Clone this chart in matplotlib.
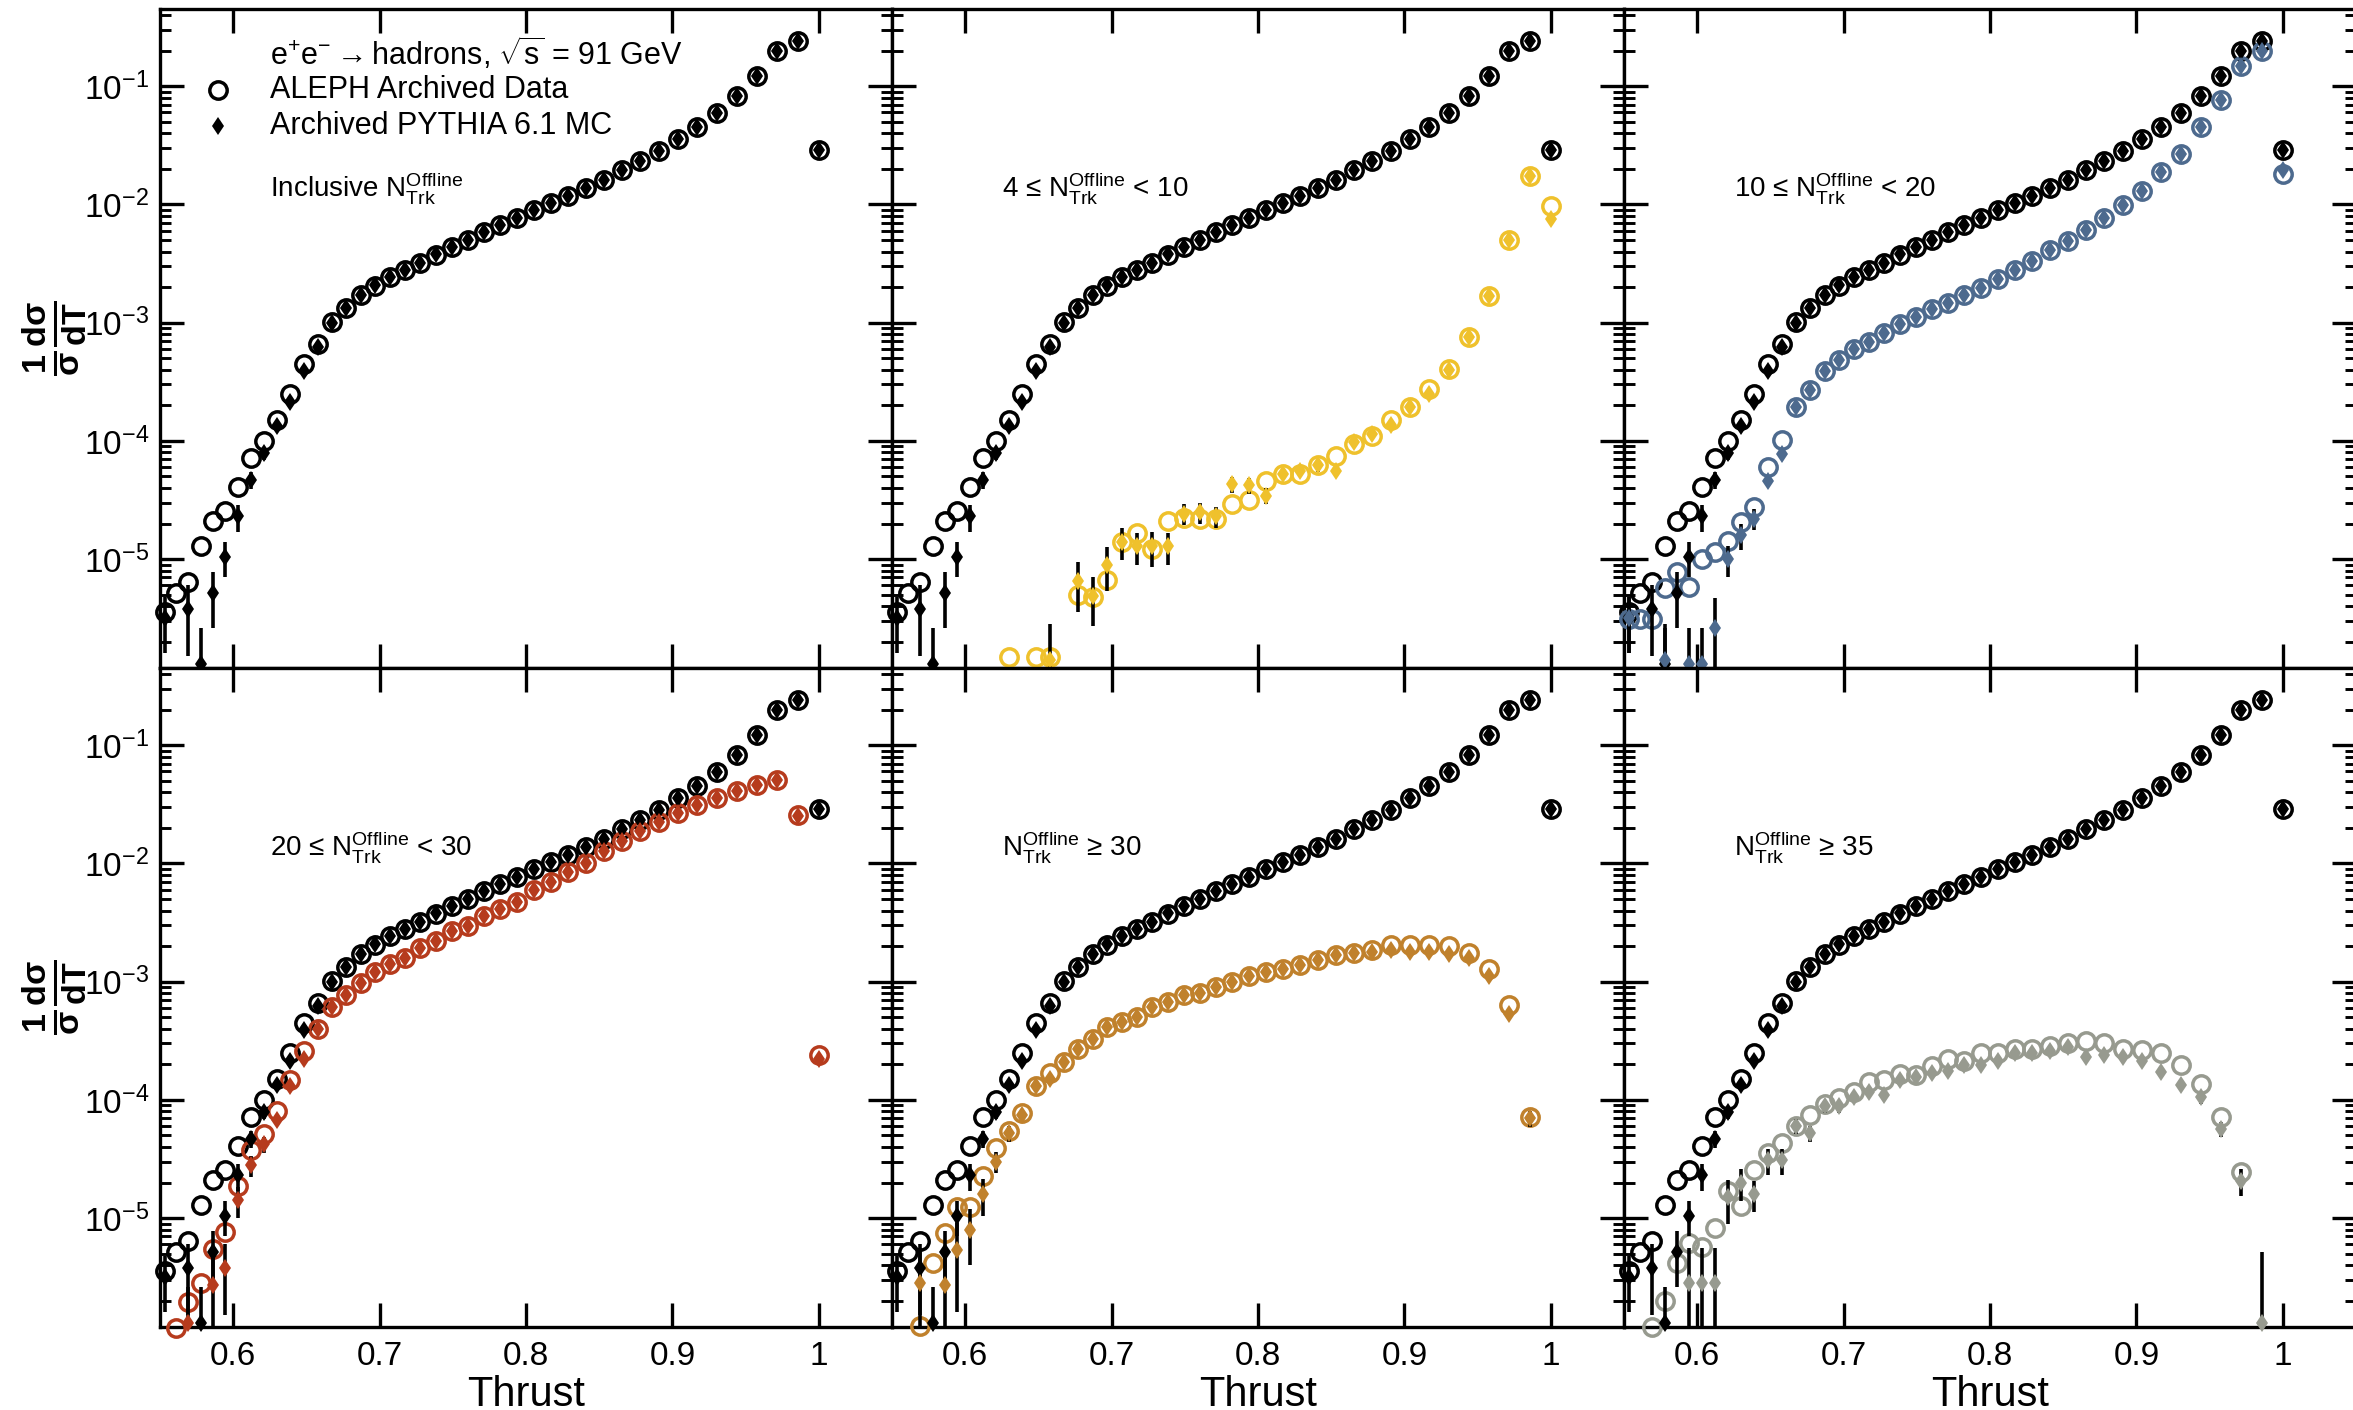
import numpy as np
import matplotlib
matplotlib.use("Agg")
import matplotlib.pyplot as plt
from matplotlib.ticker import FixedLocator, LogLocator, NullFormatter, FuncFormatter

plt.rcParams['font.family'] = ['Liberation Sans', 'DejaVu Sans']
plt.rcParams['mathtext.fontset'] = 'custom'
plt.rcParams['mathtext.rm'] = 'Liberation Sans'
plt.rcParams['mathtext.it'] = 'Liberation Sans:italic'
plt.rcParams['mathtext.bf'] = 'Liberation Sans:bold'

nan = np.nan
# ---------------- data ----------------
thrust = [0.5532, 0.5612, 0.5694, 0.5777, 0.5861, 0.5946, 0.6033, 0.6120, 0.6209, 0.6300,
          0.6391, 0.6484, 0.6579, 0.6674, 0.6771, 0.6870, 0.6970, 0.7071, 0.7174, 0.7278,
          0.7384, 0.7492, 0.7601, 0.7711, 0.7823, 0.7937, 0.8052, 0.8170, 0.8288, 0.8409,
          0.8531, 0.8655, 0.8781, 0.8909, 0.9039, 0.9170, 0.9303, 0.9439, 0.9576, 0.9715,
          0.9857, 1.0000]

incl_data = [3.6e-6, 5.2e-6, 6.4e-6, 1.3e-5, 2.1e-5, 2.55e-5, 4.1e-5, 7.2e-5, 1.0e-4, 1.5e-4,
             2.5e-4, 4.45e-4, 6.6e-4, 1.02e-3, 1.32e-3, 1.72e-3, 2.05e-3, 2.43e-3, 2.8e-3, 3.2e-3,
             3.77e-3, 4.4e-3, 5.0e-3, 5.9e-3, 6.7e-3, 7.7e-3, 8.9e-3, 0.0102, 0.0119, 0.0137,
             0.0160, 0.0196, 0.0232, 0.0284, 0.0355, 0.0452, 0.0592, 0.0834, 0.123, 0.199,
             0.242, 0.0286]
incl_mc = [3.2e-6, nan, 3.8e-6, 1.3e-6, 5.2e-6, 1.05e-5, 2.3e-5, 4.7e-5, 7.9e-5, 1.34e-4,
           2.15e-4, 3.9e-4, 6.2e-4, 1.0e-3, 1.32e-3, 1.72e-3, 2.1e-3, 2.45e-3, 2.8e-3, 3.2e-3,
           3.8e-3, 4.4e-3, 5.0e-3, 5.9e-3, 6.7e-3, 7.7e-3, 8.9e-3, 0.0102, 0.0119, 0.0137,
           0.0160, 0.0196, 0.0232, 0.0284, 0.0355, 0.0452, 0.0592, 0.0834, 0.123, 0.199,
           0.242, 0.0286]
incl_mc_rel = [0.5, 0, 0.6, 1.0, 0.5, 0.33, 0.26, 0.17, 0.12, 0.1,
               0.08, 0.06, 0.05, 0.04, 0.03, 0.03, 0.03, 0.02, 0.02, 0.02,
               0.02, 0.02, 0.02, 0.02, 0.02, 0.02, 0.02, 0.02, 0.02, 0.02,
               0.02, 0.02, 0.02, 0.02, 0.02, 0.02, 0.02, 0.02, 0.02, 0.02,
               0.02, 0.02]

y_data = [nan, nan, nan, nan, nan, nan, nan, nan, nan, 1.5e-6,
          nan, 1.5e-6, 1.5e-6, nan, 5.0e-6, 4.8e-6, 6.6e-6, 1.39e-5, 1.66e-5, 1.21e-5,
          2.1e-5, 2.23e-5, 2.19e-5, 2.19e-5, 2.9e-5, 3.16e-5, 4.6e-5, 5.3e-5, 5.25e-5, 6.2e-5,
          7.4e-5, 9.4e-5, 1.1e-4, 1.49e-4, 1.94e-4, 2.75e-4, 4.07e-4, 7.5e-4, 1.67e-3, 4.98e-3,
          0.0175, 0.00966]
y_mc = [nan, nan, nan, nan, nan, nan, nan, nan, nan, nan,
        nan, nan, 1.4e-6, nan, 6.5e-6, 4.9e-6, 9.0e-6, 1.4e-5, 1.28e-5, 1.28e-5,
        1.28e-5, 2.43e-5, 2.5e-5, 2.3e-5, 4.3e-5, 4.2e-5, 3.45e-5, 5.3e-5, 5.6e-5, 6.2e-5,
        5.6e-5, 9.7e-5, 1.15e-4, 1.37e-4, 1.94e-4, 2.5e-4, 4.0e-4, 7.5e-4, 1.67e-3, 5.0e-3,
        0.0175, 7.6e-3]
y_mc_rel = [0, 0, 0, 0, 0, 0, 0, 0, 0, 0,
            0, 0, 1.0, 0, 0.45, 0.45, 0.4, 0.3, 0.3, 0.33,
            0.3, 0.2, 0.2, 0.2, 0.15, 0.15, 0.15, 0.12, 0.12, 0.12,
            0.12, 0.1, 0.1, 0.1, 0.1, 0.06, 0.05, 0.05, 0.04, 0.04,
            0.04, 0.05]

b_data = [3.1e-6, 3.1e-6, 3.1e-6, 5.7e-6, 7.8e-6, 5.8e-6, 1.0e-5, 1.14e-5, 1.42e-5, 2.05e-5,
          2.78e-5, 6.0e-5, 1.01e-4, 1.94e-4, 2.7e-4, 3.9e-4, 4.85e-4, 6.0e-4, 6.9e-4, 8.2e-4,
          9.75e-4, 1.11e-3, 1.3e-3, 1.47e-3, 1.72e-3, 1.96e-3, 2.33e-3, 2.77e-3, 3.3e-3, 4.1e-3,
          4.9e-3, 6.1e-3, 7.7e-3, 9.8e-3, 0.013, 0.0189, 0.0268, 0.045, 0.076, 0.147,
          0.2, 0.0181]
b_mc = [3.2e-6, nan, nan, 1.4e-6, nan, 1.3e-6, 1.3e-6, 2.6e-6, 1.0e-5, 1.6e-5,
        2.2e-5, 4.6e-5, 7.8e-5, 1.94e-4, 2.7e-4, 3.9e-4, 4.85e-4, 6.0e-4, 6.9e-4, 8.2e-4,
        9.75e-4, 1.11e-3, 1.3e-3, 1.47e-3, 1.72e-3, 1.96e-3, 2.33e-3, 2.77e-3, 3.3e-3, 4.1e-3,
        4.9e-3, 6.1e-3, 7.7e-3, 9.8e-3, 0.013, 0.0189, 0.0268, 0.045, 0.076, 0.147,
        0.2, 0.0195]
b_mc_rel = [0.5, 0, 0, 1.0, 0, 1.0, 1.0, 0.8, 0.3, 0.25,
            0.2, 0.12, 0.1, 0.06, 0.05, 0.04, 0.04, 0.03, 0.03, 0.03,
            0.03, 0.03, 0.03, 0.03, 0.03, 0.03, 0.03, 0.03, 0.03, 0.03,
            0.03, 0.03, 0.03, 0.03, 0.03, 0.03, 0.03, 0.03, 0.03, 0.03,
            0.03, 0.03]

r_data = [nan, 1.18e-6, 1.95e-6, 2.85e-6, 5.5e-6, 7.7e-6, 1.88e-5, 3.8e-5, 5.1e-5, 8.0e-5,
          1.47e-4, 2.6e-4, 3.96e-4, 6.05e-4, 7.7e-4, 9.7e-4, 1.21e-3, 1.42e-3, 1.6e-3, 1.94e-3,
          2.23e-3, 2.7e-3, 2.96e-3, 3.58e-3, 4.13e-3, 4.76e-3, 6.0e-3, 6.95e-3, 8.4e-3, 0.0101,
          0.0128, 0.0155, 0.0187, 0.0226, 0.0265, 0.031, 0.036, 0.041, 0.046, 0.0506,
          0.0255, 2.4e-4]
r_mc = [nan, nan, 1.3e-6, nan, 2.7e-6, 3.8e-6, 1.42e-5, 2.8e-5, 4.2e-5, 6.8e-5,
        1.31e-4, 2.2e-4, 3.96e-4, 6.05e-4, 7.7e-4, 9.7e-4, 1.21e-3, 1.42e-3, 1.6e-3, 1.94e-3,
        2.23e-3, 2.7e-3, 2.96e-3, 3.58e-3, 4.13e-3, 4.76e-3, 6.0e-3, 6.95e-3, 8.4e-3, 0.0101,
        0.0128, 0.0155, 0.0187, 0.0226, 0.0265, 0.031, 0.036, 0.041, 0.046, 0.0506,
        0.025, 2.2e-4]
r_mc_rel = [0, 0, 1.0, 0, 0.8, 0.6, 0.3, 0.2, 0.15, 0.12,
            0.08, 0.06, 0.05, 0.04, 0.03, 0.03, 0.03, 0.03, 0.03, 0.03,
            0.03, 0.03, 0.03, 0.03, 0.03, 0.03, 0.03, 0.03, 0.03, 0.03,
            0.03, 0.03, 0.03, 0.03, 0.03, 0.03, 0.03, 0.03, 0.03, 0.03,
            0.03, 0.05]

o_data = [nan, nan, 1.22e-6, 4.16e-6, 7.5e-6, 1.24e-5, 1.24e-5, 2.27e-5, 3.9e-5, 5.5e-5,
          7.75e-5, 1.31e-4, 1.7e-4, 2.1e-4, 2.7e-4, 3.3e-4, 4.16e-4, 4.57e-4, 5.0e-4, 6.1e-4,
          6.7e-4, 7.7e-4, 8.0e-4, 9.1e-4, 9.9e-4, 1.12e-3, 1.2e-3, 1.29e-3, 1.39e-3, 1.53e-3,
          1.68e-3, 1.74e-3, 1.85e-3, 2.03e-3, 2.03e-3, 2.03e-3, 2.0e-3, 1.75e-3, 1.29e-3, 6.4e-4,
          7.2e-5, nan]
o_mc = [nan, nan, 2.8e-6, nan, 2.7e-6, 5.4e-6, 8.0e-6, 1.6e-5, 3.0e-5, 5.2e-5,
        7.5e-5, 1.3e-4, 1.49e-4, 2.1e-4, 2.7e-4, 3.3e-4, 4.16e-4, 4.57e-4, 5.0e-4, 6.1e-4,
        6.7e-4, 7.7e-4, 8.0e-4, 9.1e-4, 9.9e-4, 1.12e-3, 1.2e-3, 1.29e-3, 1.39e-3, 1.53e-3,
        1.68e-3, 1.74e-3, 1.8e-3, 1.85e-3, 1.8e-3, 1.8e-3, 1.72e-3, 1.58e-3, 1.11e-3, 5.3e-4,
        7.0e-5, nan]
o_mc_rel = [0, 0, 1.0, 0, 1.0, 0.7, 0.5, 0.35, 0.2, 0.15,
            0.1, 0.07, 0.06, 0.05, 0.04, 0.04, 0.04, 0.04, 0.04, 0.04,
            0.04, 0.04, 0.04, 0.04, 0.04, 0.04, 0.04, 0.04, 0.04, 0.04,
            0.04, 0.04, 0.04, 0.04, 0.04, 0.04, 0.04, 0.04, 0.05, 0.06,
            0.15, 0]

g_data = [nan, nan, 1.2e-6, 2.0e-6, 4.16e-6, 6.2e-6, 5.7e-6, 8.3e-6, 1.68e-5, 1.26e-5,
          2.57e-5, 3.57e-5, 4.3e-5, 6.0e-5, 7.5e-5, 9.2e-5, 1.03e-4, 1.16e-4, 1.41e-4, 1.47e-4,
          1.65e-4, 1.62e-4, 1.95e-4, 2.23e-4, 2.15e-4, 2.47e-4, 2.47e-4, 2.7e-4, 2.7e-4, 2.85e-4,
          3.05e-4, 3.16e-4, 3.05e-4, 2.7e-4, 2.65e-4, 2.47e-4, 1.97e-4, 1.35e-4, 7.2e-5, 2.45e-5,
          nan, nan]
g_mc = [nan, nan, nan, nan, nan, 2.8e-6, 2.8e-6, 2.8e-6, 1.5e-5, 2.0e-5,
        1.6e-5, 3.1e-5, 3.1e-5, 6.0e-5, 5.2e-5, 8.8e-5, 8.8e-5, 1.05e-4, 1.16e-4, 1.1e-4,
        1.47e-4, 1.55e-4, 1.69e-4, 1.77e-4, 1.99e-4, 1.99e-4, 2.15e-4, 2.5e-4, 2.47e-4, 2.6e-4,
        2.8e-4, 2.3e-4, 2.4e-4, 2.3e-4, 2.15e-4, 1.73e-4, 1.34e-4, 1.05e-4, 5.7e-5, 2.07e-5,
        1.3e-6, nan]
g_mc_rel = [0, 0, 0, 0, 0, 1.0, 1.0, 1.0, 0.4, 0.3,
            0.3, 0.25, 0.25, 0.15, 0.15, 0.12, 0.12, 0.1, 0.1, 0.1,
            0.08, 0.08, 0.08, 0.08, 0.08, 0.08, 0.08, 0.08, 0.08, 0.08,
            0.08, 0.08, 0.08, 0.08, 0.08, 0.1, 0.1, 0.12, 0.15, 0.25,
            3.0, 0]

panel_labels = [r'Inclusive N$_{\rm Trk}^{\rm Offline}$',
                r'4 ≤ N$_{\rm Trk}^{\rm Offline}$ < 10',
                r'10 ≤ N$_{\rm Trk}^{\rm Offline}$ < 20',
                r'20 ≤ N$_{\rm Trk}^{\rm Offline}$ < 30',
                r'N$_{\rm Trk}^{\rm Offline}$ ≥ 30',
                r'N$_{\rm Trk}^{\rm Offline}$ ≥ 35']
sel_data = [None, y_data, b_data, r_data, o_data, g_data]
sel_mc = [None, y_mc, b_mc, r_mc, o_mc, g_mc]
sel_rel = [None, y_mc_rel, b_mc_rel, r_mc_rel, o_mc_rel, g_mc_rel]
sel_colors = [None, '#EFC12C', '#4D6A8E', '#B63B1D', '#C0812C', '#979A8F']

xticks = [0.6, 0.7, 0.8, 0.9, 1.0]
xticklabels = ['0.6', '0.7', '0.8', '0.9', '1']

# ---------------- figure ----------------
W, H = 2353, 1410
fig = plt.figure(figsize=(W / 100, H / 100), dpi=100)
left0, pw = 160, 732
tops = [9, 668]
ph = 659

CIRC_MS, CIRC_MEW, DIA_MS, EBW = 12.5, 2.5, 9.5, 2.6

def draw_series(ax, x, data, mc, rel, color):
    x = np.asarray(x, float)
    d = np.asarray(data, float)
    m = np.asarray(mc, float)
    e = m * np.asarray(rel, float)
    ax.plot(x, d, ls='none', marker='o', ms=CIRC_MS, mfc='none', mec=color, mew=CIRC_MEW,
            clip_on=False, zorder=3)
    ax.errorbar(x, m, yerr=e, fmt='none', ecolor='black', elinewidth=EBW,
                capsize=0, clip_on=True, zorder=4)
    ax.plot(x, m, ls='none', marker='d', ms=DIA_MS, mfc=color, mec=color, mew=0,
            clip_on=False, zorder=5)

axes = []
for i in range(6):
    r, c = divmod(i, 3)
    x0 = left0 + c * pw
    y0 = tops[r]
    ax = fig.add_axes([x0 / W, 1 - (y0 + ph) / H, pw / W, ph / H])
    ax.set_yscale('log')
    ax.set_xlim(0.55, 1.05)
    ax.set_ylim(1.2e-6, 0.45)
    for s in ax.spines.values():
        s.set_linewidth(2.4)
    ax.xaxis.set_major_locator(FixedLocator(xticks))
    ax.yaxis.set_major_locator(LogLocator(base=10, numticks=20))
    ax.yaxis.set_minor_locator(LogLocator(base=10, subs=np.arange(2, 10), numticks=20))
    ax.yaxis.set_minor_formatter(NullFormatter())
    ax.tick_params(which='major', direction='in', length=17, width=2.4,
                   top=True, right=True, labelsize=24, pad=10)
    ax.tick_params(which='minor', direction='in', length=8, width=2.1,
                   top=True, right=True)
    ax.tick_params(axis='x', which='minor', length=0)
    if r == 1:
        ax.set_xticklabels(xticklabels)
        ax.set_xlabel('Thrust', fontsize=30, labelpad=2)
    else:
        ax.set_xticklabels([])
    if c == 0:
        ax.yaxis.set_major_formatter(FuncFormatter(
            lambda v, p: r'$10^{%d}$' % int(round(np.log10(v)))))
        ax.tick_params(axis='y', labelsize=24, pad=8)
    else:
        ax.set_yticklabels([])

    draw_series(ax, thrust, incl_data, incl_mc, incl_mc_rel, 'black')
    if i > 0:
        draw_series(ax, thrust, sel_data[i], sel_mc[i], sel_rel[i], sel_colors[i])

    ax.text(0.150, 0.728, panel_labels[i], transform=ax.transAxes, fontsize=20,
            ha='left', va='center')
    axes.append(ax)

# legend in first panel
ax = axes[0]
ax.text(0.150, 0.933, r'e$^{+}$e$^{-}\rightarrow$hadrons, $\sqrt{\rm s}$ = 91 GeV',
        transform=ax.transAxes, fontsize=22, ha='left', va='center')
ax.text(0.150, 0.877, 'ALEPH Archived Data', transform=ax.transAxes, fontsize=22,
        ha='left', va='center')
ax.text(0.150, 0.822, 'Archived PYTHIA 6.1 MC', transform=ax.transAxes, fontsize=22,
        ha='left', va='center')
ax.plot([0.079], [0.877], transform=ax.transAxes, marker='o', ms=CIRC_MS, mfc='none',
        mec='black', mew=CIRC_MEW, clip_on=False)
ax.plot([0.079], [0.822], transform=ax.transAxes, marker='d', ms=DIA_MS, mfc='black',
        mec='black', mew=0, clip_on=False)

# y labels
for r in range(2):
    yc = 1 - (tops[r] + ph / 2) / H
    fig.text(55 / W, yc, r'$\mathbf{\frac{1}{\sigma}\frac{d\sigma}{dT}}$', rotation=90,
             fontsize=35, ha='center', va='center')

fig.savefig('out.png', dpi=100)
